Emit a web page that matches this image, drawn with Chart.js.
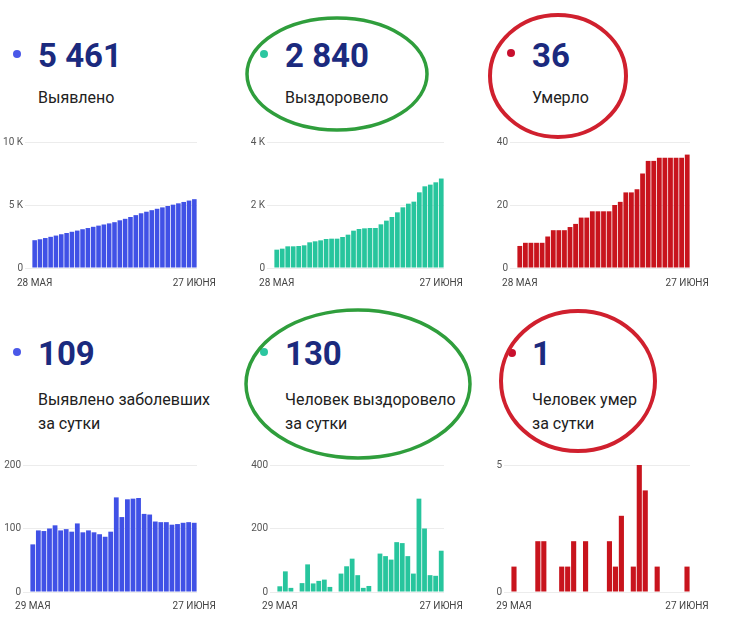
<!DOCTYPE html>
<html lang="ru">
<head>
<meta charset="UTF-8"/>
<title>Covid stats</title>
<script src="https://cdn.jsdelivr.net/npm/chart.js"></script>
<style>
 body{margin:0;background:#fff;font-family:Roboto,sans-serif}
 #page{position:relative;width:738px;height:625px;overflow:hidden}
 .dot{position:absolute;width:8px;height:8px;border-radius:50%}
 .num{position:absolute;font-size:33px;line-height:33px;font-weight:700;color:#1b2a7e;white-space:nowrap}
 .lbl{position:absolute;font-size:16px;line-height:24px;color:#212121;white-space:nowrap}
 .box{position:absolute}
 svg{position:absolute;left:0;top:0;pointer-events:none}
</style>
</head>
<body>
<div id="page">
 <div class="dot" style="left:13px;top:50px;background:#4a58e8"></div>
 <div class="num" style="left:38px;top:39px">5 461</div>
 <div class="lbl" style="left:38px;top:86px">Выявлено</div>

 <div class="dot" style="left:260px;top:50px;background:#2cc6a0"></div>
 <div class="num" style="left:285px;top:39px">2 840</div>
 <div class="lbl" style="left:285px;top:86px">Выздоровело</div>

 <div class="dot" style="left:507px;top:49px;background:#c8102e"></div>
 <div class="num" style="left:532px;top:39px">36</div>
 <div class="lbl" style="left:532px;top:86px">Умерло</div>

 <div class="dot" style="left:13px;top:348px;background:#4a58e8"></div>
 <div class="num" style="left:38px;top:337px">109</div>
 <div class="lbl" style="left:38px;top:388px">Выявлено заболевших<br>за сутки</div>

 <div class="dot" style="left:260px;top:348px;background:#2cc6a0"></div>
 <div class="num" style="left:285px;top:337px">130</div>
 <div class="lbl" style="left:285px;top:388px">Человек выздоровело<br>за сутки</div>

 <div class="dot" style="left:508px;top:349px;background:#c8102e"></div>
 <div class="num" style="left:532px;top:337px">1</div>
 <div class="lbl" style="left:532px;top:388px">Человек умер<br>за сутки</div>

 <div class="box" id="b1"><canvas id="c1"></canvas></div>
 <div class="box" id="b2"><canvas id="c2"></canvas></div>
 <div class="box" id="b3"><canvas id="c3"></canvas></div>
 <div class="box" id="b4"><canvas id="c4"></canvas></div>
 <div class="box" id="b5"><canvas id="c5"></canvas></div>
 <div class="box" id="b6"><canvas id="c6"></canvas></div>

 <svg width="738" height="625">
  <ellipse cx="337" cy="74" rx="90" ry="56" fill="none" stroke="#2f9e3c" stroke-width="3.5"/>
  <ellipse cx="558" cy="76" rx="68" ry="61" fill="none" stroke="#d0202e" stroke-width="4"/>
  <ellipse cx="358" cy="384" rx="112" ry="74" fill="none" stroke="#2f9e3c" stroke-width="3.5"/>
  <ellipse cx="578" cy="381" rx="77" ry="70" fill="none" stroke="#d0202e" stroke-width="4"/>
 </svg>
</div>

<script>
const totalDates = ['28 МАЯ','29 МАЯ','30 МАЯ','31 МАЯ','1 ИЮНЯ','2 ИЮНЯ','3 ИЮНЯ','4 ИЮНЯ','5 ИЮНЯ','6 ИЮНЯ',
  '7 ИЮНЯ','8 ИЮНЯ','9 ИЮНЯ','10 ИЮНЯ','11 ИЮНЯ','12 ИЮНЯ','13 ИЮНЯ','14 ИЮНЯ','15 ИЮНЯ','16 ИЮНЯ',
  '17 ИЮНЯ','18 ИЮНЯ','19 ИЮНЯ','20 ИЮНЯ','21 ИЮНЯ','22 ИЮНЯ','23 ИЮНЯ','24 ИЮНЯ','25 ИЮНЯ','26 ИЮНЯ','27 ИЮНЯ'];
const dailyDates = ['29 МАЯ','30 МАЯ','31 МАЯ','1 ИЮНЯ','2 ИЮНЯ','3 ИЮНЯ','4 ИЮНЯ','5 ИЮНЯ','6 ИЮНЯ',
  '7 ИЮНЯ','8 ИЮНЯ','9 ИЮНЯ','10 ИЮНЯ','11 ИЮНЯ','12 ИЮНЯ','13 ИЮНЯ','14 ИЮНЯ','15 ИЮНЯ','16 ИЮНЯ',
  '17 ИЮНЯ','18 ИЮНЯ','19 ИЮНЯ','20 ИЮНЯ','21 ИЮНЯ','22 ИЮНЯ','23 ИЮНЯ','24 ИЮНЯ','25 ИЮНЯ','26 ИЮНЯ','27 ИЮНЯ'];

const casesTotal = [2206,2281,2378,2474,2574,2679,2776,2875,2970,3078,3172,3269,3363,3454,3541,3636,
  3785,3903,4049,4196,4344,4467,4589,4700,4810,4920,5026,5133,5242,5352,5461];
const recoveredTotal = [582,614,688,688,698,720,815,847,878,920,931,931,984,1058,1185,1238,
  1259,1270,1270,1386,1503,1619,1767,1926,2042,2106,2402,2593,2646,2720,2840];
const deathsTotal = [7,8,8,8,8,10,12,12,12,13,14,16,16,18,18,18,18,20,21,24,24,25,30,34,34,35,35,35,35,35,36];

const casesDaily = [75,97,96,100,105,97,99,95,108,94,97,94,91,87,95,149,118,146,147,148,
  123,122,111,110,110,106,107,109,110,109];
const recoveredDaily = [18,65,13,0,28,87,27,35,39,16,0,58,81,105,53,13,19,0,121,113,
  102,157,154,113,58,294,200,53,51,130];
const deathsDaily = [1,0,0,0,2,2,0,0,1,1,2,0,2,0,0,0,2,1,3,0,1,5,4,0,1,0,0,0,0,1];

Chart.defaults.font.family = 'Roboto';

const kFmt = v => v === 0 ? '0' : (v / 1000) + ' K';

// plot area given in page pixels, canvas placed round it
function bars(id, labels, data, color, max, step, fmt, area, datePad) {
  const [pl, pr, pt, pb] = area;
  const left = pl - 34, top = pt - 8;
  const w = pr - left + 30, h = pb - top + 26;
  const box = document.getElementById('b' + id);
  box.style.left = left + 'px'; box.style.top = top + 'px';
  box.style.width = w + 'px'; box.style.height = h + 'px';
  new Chart(document.getElementById('c' + id), {
    type: 'bar',
    data: {labels, datasets: [{data, backgroundColor: color, barPercentage: 1, categoryPercentage: 0.86}]},
    options: {
      responsive: true, maintainAspectRatio: false, animation: false,
      layout: {padding: {top: 8, right: 30, left: 0, bottom: 0}},
      plugins: {legend: {display: false}, tooltip: {enabled: false}},
      scales: {
        x: {
          grid: {display: false, drawTicks: false}, border: {display: false},
          afterFit: s => { s.height = 26; s.paddingLeft = 0; s.paddingRight = 0; },
          ticks: {
            autoSkip: false, maxRotation: 0, padding: datePad, color: '#444', font: {size: 10},
            callback: function (v, i, t) { return (i === 0 || i === t.length - 1) ? this.getLabelForValue(v) : ''; }
          }
        },
        y: {
          min: 0, max: max,
          grid: {color: '#ececec', tickLength: 7, drawTicks: true}, border: {display: false},
          afterFit: s => { s.width = 34; s.paddingTop = 0; s.paddingBottom = 0; },
          ticks: {stepSize: step, padding: 2, color: '#555', font: {size: 10}, callback: fmt}
        }
      }
    }
  });
}

bars(1, totalDates, casesTotal, '#4051e6', 10000, 5000, kFmt, [32, 197, 142, 268], 9);
bars(2, totalDates, recoveredTotal, '#27c59d', 4000, 2000, kFmt, [274, 444, 142, 268], 9);
bars(3, totalDates, deathsTotal, '#c8141d', 40, 20, v => v, [517, 690, 142, 268], 9);
bars(4, dailyDates, casesDaily, '#4051e6', 200, 100, v => v, [30, 197, 465, 592], 8);
bars(5, dailyDates, recoveredDaily, '#27c59d', 400, 200, v => v, [277, 444, 465, 592], 8);
bars(6, dailyDates, deathsDaily, '#c8141d', 5, 5, v => v, [511, 690, 465, 592], 8);
</script>
</body>
</html>
